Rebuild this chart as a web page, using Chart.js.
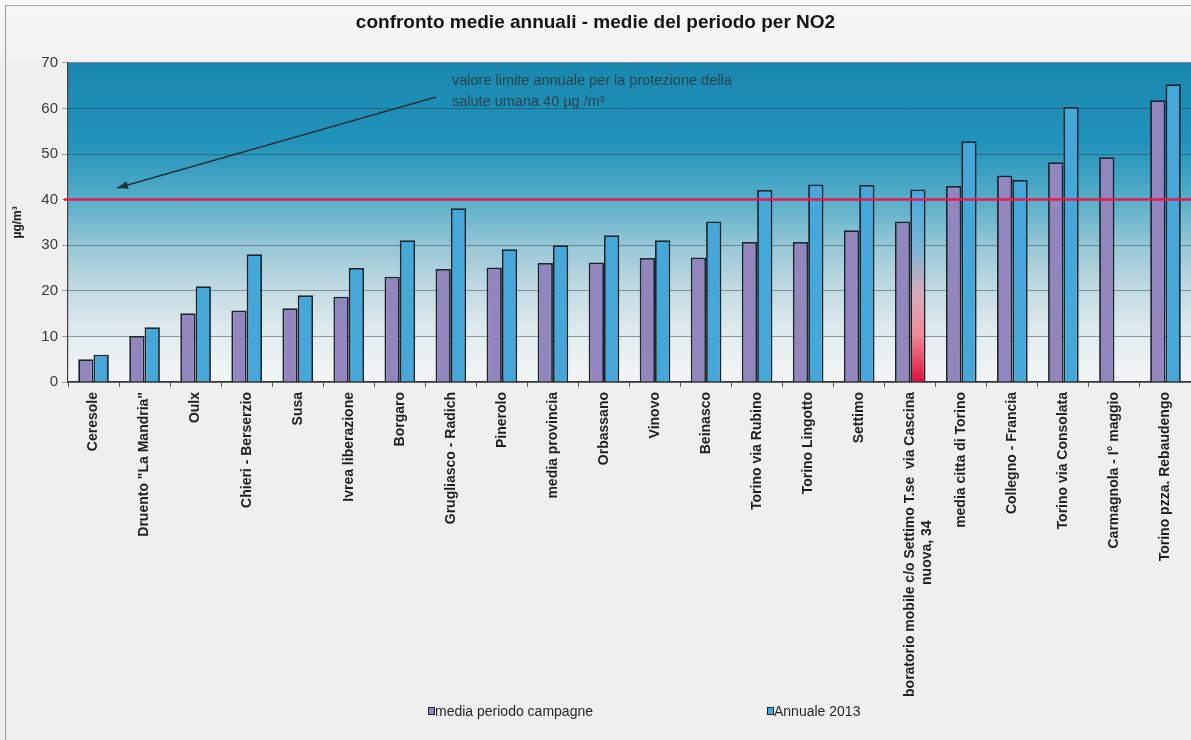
<!DOCTYPE html>
<html>
<head>
<meta charset="utf-8">
<script src="https://cdn.jsdelivr.net/npm/chart.js@4"></script>
<style>
  html, body { margin: 0; padding: 0; background: #efefef; }
  #c { display: block; }
</style>
</head>
<body>
<canvas id="c" width="1191" height="740"></canvas>
<script>
// NO2: mean over the measurement campaigns vs. 2013 annual mean, per station
const stations = [
  'Ceresole',
  'Druento "La Mandria"',
  'Oulx',
  'Chieri - Berserzio',
  'Susa',
  'Ivrea liberazione',
  'Borgaro',
  'Grugliasco - Radich',
  'Pinerolo',
  'media provincia',
  'Orbassano',
  'Vinovo',
  'Beinasco',
  'Torino via Rubino',
  'Torino Lingotto',
  'Settimo',
  ['boratorio mobile c/o Settimo T.se  via Cascina', 'nuova, 34' + ' '.repeat(33)],
  'media citta di Torino',
  'Collegno - Francia',
  'Torino via Consolata',
  'Carmagnola - I° maggio',
  'Torino pzza. Rebaudengo'
];
const campaignMeans = [5.0, 10.1, 15.1, 15.7, 16.2, 18.7, 23.1, 24.8, 25.1, 26.1, 26.2, 27.2, 27.3, 30.7, 30.7, 33.3, 35.2, 43.0, 45.3, 48.2, 49.3, 61.8];
const annual2013   = [6.0, 12.0, 21.0, 28.0, 19.0, 25.0, 31.1, 38.1, 29.1, 30.0, 32.2, 31.1, 35.2, 42.1, 43.3, 43.2, 42.2, 52.8, 44.3, 60.3, null, 65.3];
const seriesNames = ['media periodo campagne', 'Annuale 2013'];
const yTickValues = [0, 10, 20, 30, 40, 50, 60, 70];
const limitValue = 40;                 // annual limit value, µg/m³
const mobileLabIndex = 16;             // mobile laboratory station, drawn with red fade
const titleText = 'confronto medie annuali - medie del periodo per NO2';
const yTitle = 'µg/m³';
const limitNote = ['valore limite annuale per la protezione della', 'salute umana 40 µg /m³'];

const FONT = "'Liberation Sans', Arial, sans-serif";
const COLORS = {
  campaign: '#9385be',
  annual: '#45a7da',
  barEdge: '#1a252c',
  limit: '#e8194f',
  grid: 'rgba(35,55,65,0.45)',
  page: '#efefef'
};

// page + plot-area background
const backdrop = {
  id: 'backdrop',
  beforeDraw(chart) {
    const { ctx, chartArea: a } = chart;
    ctx.save();
    ctx.fillStyle = COLORS.page;
    ctx.fillRect(0, 0, chart.width, chart.height);
    const top = ctx.createLinearGradient(0, 0, 0, 60);
    top.addColorStop(0, '#f7f7f7');
    top.addColorStop(1, '#f3f3f3');
    ctx.fillStyle = top;
    ctx.fillRect(0, 0, chart.width, 60);
    // page frame
    ctx.strokeStyle = '#a4a4a4';
    ctx.lineWidth = 1.2;
    ctx.beginPath();
    ctx.moveTo(5.5, chart.height);
    ctx.lineTo(5.5, 5.5);
    ctx.lineTo(chart.width, 5.5);
    ctx.stroke();
    // plot gradient
    const g = ctx.createLinearGradient(0, a.top, 0, a.bottom);
    g.addColorStop(0, '#1a87ae');
    g.addColorStop(0.25, '#2293bb');
    g.addColorStop(0.43, '#57aec9');
    g.addColorStop(0.57, '#95c6d5');
    g.addColorStop(0.71, '#c3dae2');
    g.addColorStop(0.86, '#e3ecef');
    g.addColorStop(1, '#f4f6f6');
    ctx.fillStyle = g;
    ctx.fillRect(a.left, a.top, a.right - a.left, a.bottom - a.top);
    ctx.restore();
  }
};

// limit line, note with arrow, and legend
const overlay = {
  id: 'overlay',
  afterDatasetsDraw(chart) {
    const { ctx, chartArea: a, scales: { y } } = chart;
    ctx.save();
    const yl = y.getPixelForValue(limitValue);
    ctx.strokeStyle = COLORS.limit;
    ctx.lineWidth = 2.5;
    ctx.beginPath();
    ctx.moveTo(a.left - 4, yl);
    ctx.lineTo(a.right, yl);
    ctx.stroke();

    // note text
    ctx.fillStyle = 'rgba(40,58,64,0.88)';
    ctx.font = '14.5px ' + FONT;
    ctx.textBaseline = 'alphabetic';
    ctx.textAlign = 'left';
    ctx.fillText(limitNote[0], 452, 85);
    ctx.fillText(limitNote[1], 452, 106);

    // arrow pointing at the limit line
    const x0 = 436, y0 = 97, x1 = 117, y1 = 188;
    ctx.strokeStyle = '#1d343a';
    ctx.fillStyle = '#1d343a';
    ctx.lineWidth = 1.4;
    ctx.beginPath();
    ctx.moveTo(x0, y0);
    ctx.lineTo(x1, y1);
    ctx.stroke();
    const ang = Math.atan2(y1 - y0, x1 - x0);
    const L = 11, W = 4;
    ctx.beginPath();
    ctx.moveTo(x1, y1);
    ctx.lineTo(x1 - L * Math.cos(ang) + W * Math.sin(ang), y1 - L * Math.sin(ang) - W * Math.cos(ang));
    ctx.lineTo(x1 - L * Math.cos(ang) - W * Math.sin(ang), y1 - L * Math.sin(ang) + W * Math.cos(ang));
    ctx.closePath();
    ctx.fill();
    ctx.restore();
  },
  afterDraw(chart) {
    const { ctx } = chart;
    const items = [
      { x: 428, fill: COLORS.campaign, text: chart.data.datasets[0].label },
      { x: 767, fill: COLORS.annual, text: chart.data.datasets[1].label }
    ];
    const cy = 711;
    ctx.save();
    ctx.font = '14px ' + FONT;
    ctx.textBaseline = 'middle';
    ctx.textAlign = 'left';
    items.forEach(it => {
      ctx.fillStyle = it.fill;
      ctx.fillRect(it.x, cy - 4, 7, 8);
      ctx.strokeStyle = '#1c2830';
      ctx.lineWidth = 1;
      ctx.strokeRect(it.x + 0.5, cy - 3.5, 6, 7);
      ctx.fillStyle = '#262626';
      ctx.fillText(it.text, it.x + 7, cy + 1);
    });
    ctx.restore();
  }
};

function annualFill(ctx) {
  const chart = ctx.chart;
  if (ctx.dataIndex !== mobileLabIndex || !chart.chartArea) return COLORS.annual;
  const y = chart.scales.y;
  const g = chart.ctx.createLinearGradient(0, y.getPixelForValue(annual2013[mobileLabIndex]), 0, y.getPixelForValue(0));
  g.addColorStop(0, COLORS.annual);
  g.addColorStop(0.3, '#79b4d6');
  g.addColorStop(0.55, '#d9aab8');
  g.addColorStop(0.75, '#f08a98');
  g.addColorStop(1, '#de0f3c');
  return g;
}

new Chart(document.getElementById('c'), {
  type: 'bar',
  data: {
    labels: stations,
    datasets: [
      {
        label: seriesNames[0],
        data: campaignMeans,
        backgroundColor: COLORS.campaign,
        borderColor: COLORS.barEdge,
        borderWidth: 1.8,
        borderSkipped: 'bottom'
      },
      {
        label: seriesNames[1],
        data: annual2013,
        backgroundColor: annualFill,
        borderColor: COLORS.barEdge,
        borderWidth: 1.8,
        borderSkipped: 'bottom'
      }
    ]
  },
  options: {
    responsive: false,
    animation: false,
    events: [],
    categoryPercentage: 0.6,
    barPercentage: 1.0,
    layout: { padding: { left: 0, right: 0, top: 0, bottom: 18 } },
    plugins: {
      legend: { display: false },
      tooltip: { enabled: false },
      title: {
        display: true,
        text: titleText,
        color: '#141414',
        font: { family: FONT, size: 19, weight: 'bold' },
        padding: { top: 11, bottom: 29 }
      }
    },
    scales: {
      x: {
        offset: true,
        grid: { offset: true, drawOnChartArea: false, drawTicks: true, tickLength: 5, color: '#555' },
        border: { display: true, color: '#333', width: 1.5 },
        ticks: {
          autoSkip: false,
          maxRotation: 90,
          minRotation: 90,
          padding: 5,
          color: '#1e1e1e',
          font: { family: FONT, size: 14, weight: 'bold' }
        },
        afterFit(s) { s.height = 340; }
      },
      y: {
        min: 0,
        max: 70,
        afterBuildTicks(s) { s.ticks = yTickValues.map(v => ({ value: v })); },
        grid: { color: COLORS.grid, lineWidth: 1, tickLength: 6, drawTicks: true },
        border: { display: true, color: '#444', width: 1.2 },
        ticks: {
          padding: 4,
          color: '#3a3a3a',
          font: { family: FONT, size: 15 }
        },
        title: {
          display: true,
          text: yTitle,
          color: '#202020',
          font: { family: FONT, size: 12, weight: 'bold' },
          padding: { top: 10, bottom: 0 }
        },
        afterFit(s) { s.width = 68; }
      }
    }
  },
  plugins: [backdrop, overlay]
});
</script>
</body>
</html>
